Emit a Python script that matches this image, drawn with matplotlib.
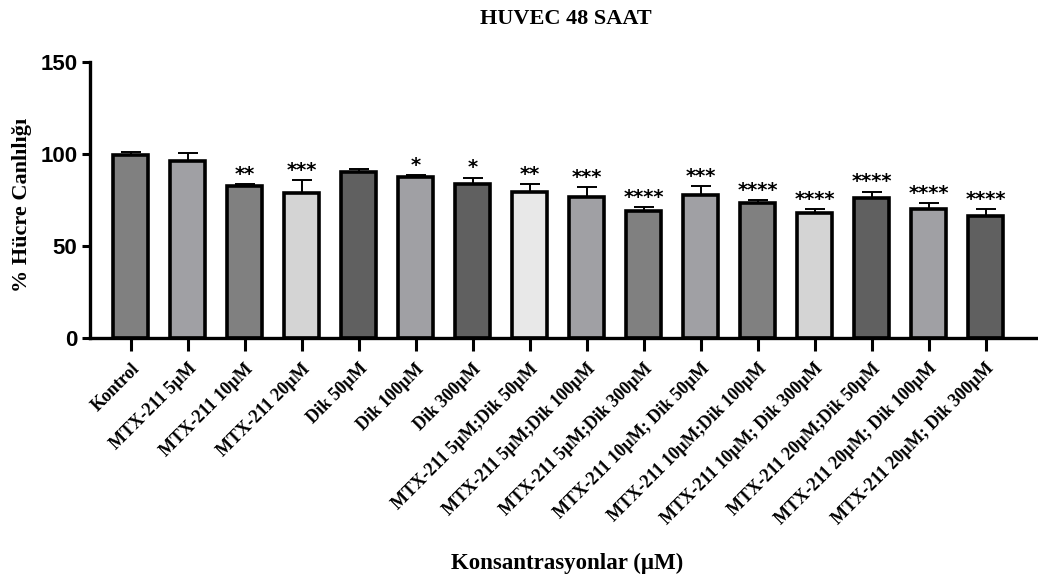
import matplotlib
matplotlib.use("Agg")
import matplotlib.pyplot as plt
import numpy as np

categories = ["Kontrol", "MTX-211 5µM", "MTX-211 10µM", "MTX-211 20µM", "Dik 50µM",
              "Dik 100µM", "Dik 300µM", "MTX-211 5µM;Dik 50µM", "MTX-211 5µM;Dik 100µM",
              "MTX-211 5µM;Dik 300µM", "MTX-211 10µM; Dik 50µM", "MTX-211 10µM;Dik 100µM",
              "MTX-211 10µM; Dik 300µM", "MTX-211 20µM;Dik 50µM", "MTX-211 20µM; Dik 100µM",
              "MTX-211 20µM; Dik 300µM"]
means = [99.2, 96.2, 82.4, 78.8, 90.0, 87.5, 83.8, 79.3, 76.5, 69.0, 77.5, 73.3, 67.7, 76.0, 69.8, 66.4]
errors = [2.0, 4.1, 1.4, 7.0, 1.5, 1.2, 3.3, 4.5, 5.5, 1.9, 5.2, 1.8, 2.4, 3.5, 3.7, 3.7]
stars = ["", "", "**", "***", "", "*", "*", "**", "***", "****", "***", "****", "****", "****", "****", "****"]
colors = ["#808080", "#a0a0a4", "#808080", "#d4d4d4", "#606060", "#a0a0a4", "#606060", "#e8e8e8",
          "#a0a0a4", "#808080", "#a0a0a4", "#808080", "#d4d4d4", "#606060", "#a0a0a4", "#606060"]
yticks = [0, 50, 100, 150]

fig = plt.figure(figsize=(10.38, 5.78), dpi=100)
ax = fig.add_axes([90/1038, 240/578, 948/1038, 276.3/578])

x = np.arange(len(categories))
ax.bar(x, means, width=0.62, color=colors, edgecolor="black", linewidth=2.6, zorder=2)
ax.errorbar(x, means, yerr=[np.zeros(len(errors)), errors], fmt="none", ecolor="black",
            elinewidth=1.4, capsize=7, capthick=1.4, zorder=1)
for xi, m, e, s in zip(x, means, errors, stars):
    if s:
        ax.text(xi, m + e + 5.2, s, ha="center", va="center", fontsize=14,
                fontweight="bold", family="DejaVu Sans")

ax.set_xlim(-0.714, 15.92)
ax.set_ylim(0, 150)
ax.set_yticks(yticks)
ax.set_yticklabels([str(v) for v in yticks], fontsize=16, fontweight="bold", family="Liberation Sans")
ax.set_xticks(x)
ax.set_xticklabels(categories, rotation=45, ha="right", rotation_mode="anchor",
                   fontsize=13, fontweight="bold", family="Liberation Serif")
for sp in ["top", "right"]:
    ax.spines[sp].set_visible(False)
for sp in ["left", "bottom"]:
    ax.spines[sp].set_linewidth(2.4)
ax.tick_params(axis="x", length=9, width=2.2, pad=7)
ax.tick_params(axis="y", length=6, width=2.2, pad=3)

ax.set_ylabel("% Hücre Canlılığı", fontsize=16, fontweight="bold", family="Liberation Serif")
ax.set_xlabel("Konsantrasyonlar (µM)", fontsize=16.5, fontweight="bold", family="Liberation Serif")
ax.xaxis.set_label_coords((567 - 90) / 948, -(553 - 338) / 276.3)
ax.yaxis.set_label_coords(-(90 - 32) / 948, (338 - 205) / 276.3)
fig.text(566/1038, 1 - 19/578, "HUVEC 48 SAAT", ha="center", va="center", fontsize=16,
         fontweight="bold", family="Liberation Serif")

fig.savefig("out.png", dpi=100)
